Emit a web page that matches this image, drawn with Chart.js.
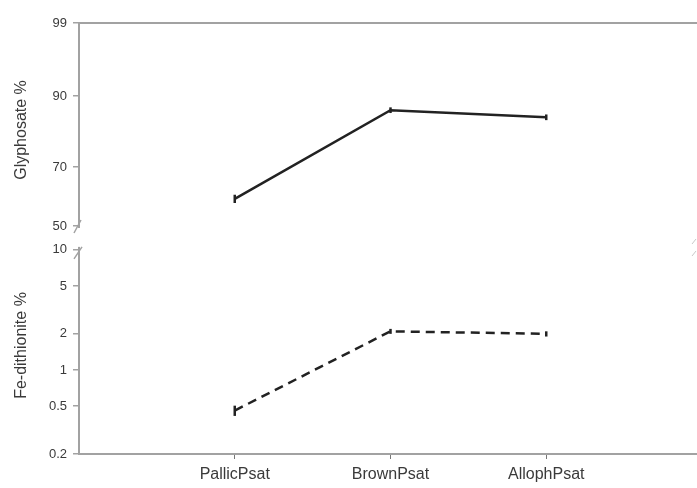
<!DOCTYPE html>
<html>
<head>
<meta charset="utf-8">
<script src="https://cdn.jsdelivr.net/npm/chart.js@4"></script>
<style>
  body { margin:0; background:#fff; overflow:hidden; }
  #wrap { position:absolute; left:0; top:0; width:710px; height:488px; }
</style>
</head>
<body>
<div id="wrap"><canvas id="c" width="710" height="488"></canvas></div>
<script>
/* DATA */
const categories = ["PallicPsat", "BrownPsat", "AllophPsat"];
const glyphosate = [59.2, 86.0, 84.0];
const glyphosateErr = [1.4, 0.8, 0.8];
const feDithionite = [0.46, 2.1, 2.0];
const feDithioniteErr = [0.045, 0.1, 0.1];
const glyTicks = [50, 70, 90, 99];
const feTicks = [0.2, 0.5, 1, 2, 5, 10];

const AXIS = "#a2a2a2";
const TEXT = "#3a3a3a";
const FONT = "'Liberation Sans', Arial, sans-serif";

/* piecewise axis: tick values sit at given unit positions, linear in between */
class PiecewiseScale extends Chart.LinearScale {
  determineDataLimits(){
    this.min = this.options.unitMin;
    this.max = this.options.unitMax;
  }
  buildTicks(){
    return this.options.stopValues.map(v=>({value:v}));
  }
  toUnit(v){
    const vals = this.options.stopValues, units = this.options.stopUnits;
    let i = 0;
    while(i < vals.length-2 && v > vals[i+1]) i++;
    const t = (v - vals[i]) / (vals[i+1] - vals[i]);
    return units[i] + t*(units[i+1]-units[i]);
  }
  getPixelForValue(v){
    return super.getPixelForValue(this.toUnit(v));
  }
}
PiecewiseScale.id = "piecewise";
PiecewiseScale.defaults = Chart.LinearScale.defaults;
Chart.register(PiecewiseScale);

/* error caps on each point */
const errorCaps = {
  id:"errorCaps",
  afterDatasetsDraw(chart){
    const ctx = chart.ctx;
    chart.data.datasets.forEach((ds,di)=>{
      const ys = chart.scales[ds.yAxisID], xs = chart.scales.x;
      ds.data.forEach((p,i)=>{
        const e = ds.errors[i];
        const x = xs.getPixelForValue(p.x);
        ctx.save();
        ctx.strokeStyle = "#222";
        ctx.lineWidth = 2.5;
        ctx.beginPath();
        ctx.moveTo(x, ys.getPixelForValue(p.y - e));
        ctx.lineTo(x, ys.getPixelForValue(p.y + e));
        ctx.stroke();
        ctx.restore();
      });
    });
  }
};

/* frame top line + axis break marks */
const breaks = {
  id:"breaks",
  afterDraw(chart){
    const ctx = chart.ctx, a = chart.chartArea;
    const yg = chart.scales.yg, yf = chart.scales.yf;
    const x = a.left;
    const yEnd = yg.getPixelForValue(50) + 2;
    const yStart = yf.getPixelForValue(10) - 3;
    ctx.save();
    ctx.fillStyle = "#fff";
    ctx.fillRect(x-3, yEnd, 6, yStart-yEnd);
    ctx.strokeStyle = AXIS;
    ctx.lineWidth = 2;
    ctx.beginPath();
    ctx.moveTo(x, a.top); ctx.lineTo(chart.width, a.top);
    ctx.stroke();
    ctx.lineWidth = 1.5;
    ctx.beginPath();
    ctx.moveTo(x+2, yEnd-8); ctx.lineTo(x-5, yEnd+5);
    ctx.moveTo(x+3, yStart); ctx.lineTo(x-5, yStart+12);
    ctx.stroke();
    ctx.strokeStyle = "#c8c8c8";
    ctx.lineWidth = 1;
    ctx.beginPath();
    ctx.moveTo(692, 244); ctx.lineTo(696, 239);
    ctx.moveTo(692, 256); ctx.lineTo(696, 251);
    ctx.stroke();
    ctx.restore();
  }
};

const yCommon = {
  position:"left",
  stack:"left",
  border:{display:true, color:AXIS, width:2},
  grid:{drawOnChartArea:false, color:AXIS, tickLength:6, lineWidth:1.5},
  ticks:{color:TEXT, font:{family:FONT, size:13}, padding:6},
  afterFit: s=>{ s.width = 79; }
};

new Chart(document.getElementById("c"), {
  type:"line",
  data:{
    datasets:[
      {
        label:"Glyphosate %",
        yAxisID:"yg",
        data:categories.map((c,i)=>({x:i+1, y:glyphosate[i]})),
        errors:glyphosateErr,
        borderColor:"#222",
        borderWidth:2.5,
        pointRadius:0,
        tension:0
      },
      {
        label:"Fe-dithionite %",
        yAxisID:"yf",
        data:categories.map((c,i)=>({x:i+1, y:feDithionite[i]})),
        errors:feDithioniteErr,
        borderColor:"#222",
        borderWidth:2.5,
        borderDash:[9,6],
        pointRadius:0,
        tension:0
      }
    ]
  },
  options:{
    responsive:false,
    animation:false,
    events:[],
    layout:{padding:{top:23, right:8, left:0, bottom:0}},
    plugins:{legend:{display:false}, tooltip:{enabled:false}},
    scales:{
      x:{
        type:"linear",
        min:0, max:4,
        border:{display:true, color:AXIS, width:2},
        grid:{drawOnChartArea:false, color:"#777", tickLength:5, lineWidth:1},
        afterBuildTicks: s=>{ s.ticks = categories.map((c,i)=>({value:i+1})); },
        ticks:{
          color:TEXT, font:{family:FONT, size:16}, padding:6,
          callback: v=>categories[v-1]
        },
        afterFit: s=>{ s.height = 34; }
      },
      // the lower panel is listed first so the stack puts it at the bottom
      yf:Object.assign({}, yCommon, {
        type:"logarithmic",
        stackWeight:217,
        min:0.2, max:12.8,
        afterBuildTicks: s=>{ s.ticks = feTicks.map(v=>({value:v})); },
        ticks:Object.assign({}, yCommon.ticks, {callback: v=>String(v)}),
        title:{display:true, text:"Fe-dithionite %", color:TEXT,
               font:{family:FONT, size:16}, padding:{top:12, bottom:0}}
      }),
      yg:Object.assign({}, yCommon, {
        type:"piecewise",
        stackWeight:214,
        stopValues:glyTicks,
        stopUnits:[0, 59, 130, 203],
        unitMin:-11, unitMax:203,
        ticks:Object.assign({}, yCommon.ticks, {callback: v=>String(v)}),
        title:{display:true, text:"Glyphosate %", color:TEXT,
               font:{family:FONT, size:16}, padding:{top:12, bottom:0}}
      })
    }
  },
  plugins:[errorCaps, breaks]
});
</script>
</body>
</html>
